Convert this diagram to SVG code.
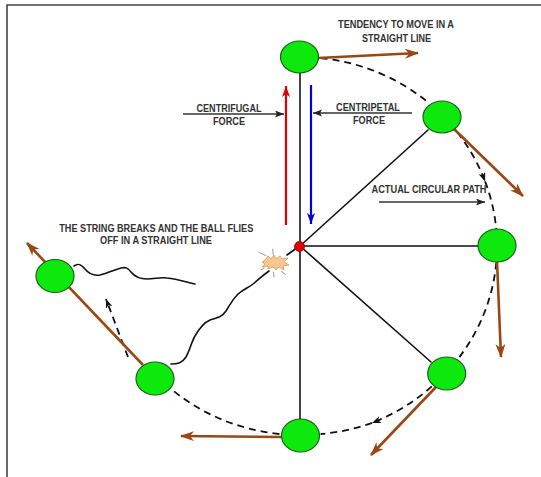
<svg xmlns="http://www.w3.org/2000/svg" width="541" height="477" viewBox="0 0 541 477">
<defs>
<style>
.lbl{font-family:"Liberation Sans",Arial,sans-serif;font-weight:bold;font-size:10.5px;fill:#333;text-anchor:middle}
.ball{fill:#0de80d;stroke:#1d5e1d;stroke-width:1.2}
.dash{fill:none;stroke:#111;stroke-width:1.8;stroke-dasharray:7 5}
.str{fill:none;stroke:#111;stroke-width:1.6;stroke-linejoin:round;stroke-linecap:round}
.vel{fill:none;stroke:#9a4716;stroke-width:2.6;marker-end:url(#bh)}
.ptr{fill:none;stroke:#333;stroke-width:1.3;marker-end:url(#kh)}
</style>
<marker id="bh" markerUnits="userSpaceOnUse" markerWidth="16" markerHeight="12" refX="13" refY="5" orient="auto">
<path d="M0,0 L14,5 L0,10 L4,5 z" fill="#9a4716"/>
</marker>
<marker id="kh" markerUnits="userSpaceOnUse" markerWidth="10" markerHeight="8" refX="9" refY="3.5" orient="auto">
<path d="M0,0 L9,3.5 L0,7 L2,3.5 z" fill="#222"/>
</marker>
<marker id="dh" markerUnits="userSpaceOnUse" markerWidth="10" markerHeight="8" refX="9" refY="3.5" orient="auto">
<path d="M0,0 L9,3.5 L0,7 L2.5,3.5 z" fill="#111"/>
</marker>
<marker id="rh" markerUnits="userSpaceOnUse" markerWidth="12" markerHeight="10" refX="11" refY="4" orient="auto">
<path d="M0,0 L11,4 L0,8 L3,4 z" fill="#e00000"/>
</marker>
<marker id="uh" markerUnits="userSpaceOnUse" markerWidth="12" markerHeight="10" refX="11" refY="4" orient="auto">
<path d="M0,0 L11,4 L0,8 L3,4 z" fill="#0000d8"/>
</marker>
</defs>
<rect width="541" height="477" fill="#fff"/>
<path d="M7,477 L7,5 L541,5" fill="none" stroke="#444" stroke-width="1.6"/>

<g id="connectors">
<!-- dashed circular path -->
<path class="dash" d="M320.6,58 A197 189 0 0 1 429.2,103.3"/>
<path class="dash" d="M457.3,132.3 A197 189 0 0 1 485.1,181.4" marker-end="url(#dh)"/>
<path class="dash" d="M485.1,181.4 A197 189 0 0 1 496.3,229.5"/>
<path class="dash" d="M496.3,262.5 A197 189 0 0 1 459.4,357.1"/>
<path class="dash" d="M431.8,386.4 A197 189 0 0 1 372,422.9" marker-end="url(#dh)"/>
<path class="dash" d="M372,422.9 A197 189 0 0 1 320.6,434"/>
<path class="dash" d="M279.4,434 A197 189 0 0 1 170.8,388.7"/>
<path class="dash" d="M128,357 L106,299" marker-end="url(#dh)"/>
<!-- strings -->
<line x1="300" y1="73" x2="300" y2="419" stroke="#444" stroke-width="2"/>
<line class="str" x1="300" y1="246" x2="428" y2="130"/>
<line class="str" x1="300" y1="246" x2="479" y2="246"/>
<line class="str" x1="300" y1="246" x2="431" y2="362"/>
<line class="str" x1="287" y1="255" x2="296" y2="248.5"/>
<path class="str" d="M171,364 C178,364 182,363 186,357 C190,350 191,343 195,336 C199,329 203,323 210,320 C217,318 222,317 226,311 C230,305 232,300 238,294 C244,289 248,288 253,284 C258,280 262,276 269,271"/>
<path class="str" d="M74,266 C78,263 81,264 85,269 C89,274 93,276 100,275 C108,273 114,270 121,268 C126,267 128,268 131,272 C135,277 140,279 147,279 C155,279 160,277 167,278 C177,279 186,282 195,284"/>
<!-- velocity arrows -->
<path class="vel" d="M318,58 L418,53"/>
<path class="vel" d="M453,128 L523,196"/>
<path class="vel" d="M497,261 L501,357"/>
<path class="vel" d="M436,387 L371,455"/>
<path class="vel" d="M282,437 L181,436"/>
<path class="vel" d="M143,365 L27,243"/>
<!-- force arrows -->
<path d="M286,225 L286,86" stroke="#e00000" stroke-width="2.2" fill="none" marker-end="url(#rh)"/>
<path d="M311,85 L311,224" stroke="#0000d8" stroke-width="2.2" fill="none" marker-end="url(#uh)"/>
<path class="ptr" d="M183,114 L284,114"/>
<path class="ptr" d="M412,113 L313,113"/>
<path class="ptr" d="M379,202 L485,202"/>
</g>

<g id="spark">
<polygon points="262,262 266,259 268,256 271,259 274,255 276,259 280,256 282,259 288,258 284,262 289,265 283,266 284,270 279,267 276,270 273,267 268,269 268,266 262,267 265,264" fill="#f8c690" stroke="#d89a5c" stroke-width="0.8"/>
<g stroke="#999" stroke-width="1" stroke-linecap="round">
<line x1="259" y1="252.5" x2="266" y2="255.5"/>
<line x1="272.7" y1="249" x2="273.2" y2="254.5"/>
<line x1="273.3" y1="272" x2="274" y2="277"/>
<line x1="281.5" y1="271.5" x2="285.5" y2="274.5"/>
<line x1="261" y1="270" x2="264" y2="268"/>
</g>
</g>

<g id="ball-top"><ellipse class="ball" cx="299.5" cy="57" rx="19" ry="16"/></g>
<g id="ball-upper-right"><ellipse class="ball" cx="442" cy="117" rx="19" ry="16"/></g>
<g id="ball-right"><ellipse class="ball" cx="497" cy="245.5" rx="19" ry="16.5"/></g>
<g id="ball-lower-right"><ellipse class="ball" cx="446.7" cy="373.5" rx="19" ry="16.5"/></g>
<g id="ball-bottom"><ellipse class="ball" cx="300.5" cy="435.5" rx="19" ry="16.5"/></g>
<g id="ball-lower-left"><ellipse class="ball" cx="155" cy="378.5" rx="19" ry="16.5"/></g>
<g id="ball-flying"><ellipse class="ball" cx="55" cy="276" rx="19" ry="16.5"/></g>
<g id="pivot"><circle cx="299.5" cy="246.5" r="5" fill="#e00000" stroke="#900" stroke-width="0.8"/></g>

<g id="labels">
<text class="lbl" x="396" y="28.3" textLength="116" lengthAdjust="spacingAndGlyphs">TENDENCY TO MOVE IN A</text>
<text class="lbl" x="396.5" y="41.7" textLength="69" lengthAdjust="spacingAndGlyphs">STRAIGHT LINE</text>
<text class="lbl" x="229" y="111.7" textLength="65" lengthAdjust="spacingAndGlyphs">CENTRIFUGAL</text>
<text class="lbl" x="229" y="125" textLength="32" lengthAdjust="spacingAndGlyphs">FORCE</text>
<text class="lbl" x="368" y="111" textLength="64" lengthAdjust="spacingAndGlyphs">CENTRIPETAL</text>
<text class="lbl" x="369" y="123.5" textLength="32" lengthAdjust="spacingAndGlyphs">FORCE</text>
<text class="lbl" x="429" y="193.3" textLength="115" lengthAdjust="spacingAndGlyphs">ACTUAL CIRCULAR PATH</text>
<text class="lbl" x="156.3" y="231.7" textLength="194" lengthAdjust="spacingAndGlyphs">THE STRING BREAKS AND THE BALL FLIES</text>
<text class="lbl" x="156" y="244.3" textLength="112" lengthAdjust="spacingAndGlyphs">OFF IN A STRAIGHT LINE</text>
</g>
</svg>
